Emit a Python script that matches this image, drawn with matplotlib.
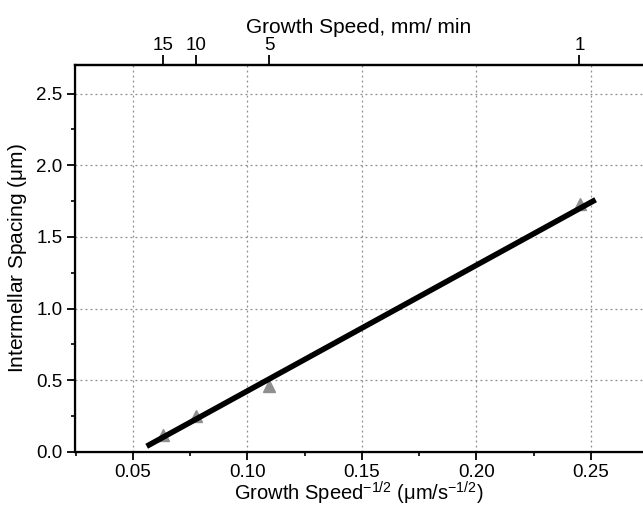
import matplotlib.pyplot as plt
from matplotlib.ticker import MultipleLocator
import numpy as np

plt.rcParams['font.family'] = ['Liberation Sans', 'DejaVu Sans']
plt.rcParams['mathtext.fontset'] = 'custom'
plt.rcParams['mathtext.rm'] = 'Liberation Sans'

# measured points (triangles)
pt_x = [0.063, 0.0775, 0.1095, 0.245]
pt_y = [0.12, 0.25, 0.46, 1.73]

# linear fit line endpoints
line_x = [0.056, 0.252]
line_y = [0.04, 1.76]

# top axis: growth speed in mm/min
top_speed = [15, 10, 5, 1]
top_labels = ['15', '10', '5', '1']

fig = plt.figure(figsize=(6.43, 5.07), dpi=100)
ax = fig.add_axes([0.1166, 0.1085, 0.8834, 0.7633])

ax.plot(pt_x, pt_y, '^', color='#8f8f8f', markersize=8, zorder=2)
ax.plot(line_x, line_y, '-', color='black', lw=4, solid_capstyle='butt', zorder=3)

ax.set_xlim(0.0247, 0.2727)
ax.set_ylim(0, 2.7)
ax.xaxis.set_major_locator(MultipleLocator(0.05))
ax.xaxis.set_minor_locator(MultipleLocator(0.025))
ax.yaxis.set_major_locator(MultipleLocator(0.5))
ax.yaxis.set_minor_locator(MultipleLocator(0.25))
ax.xaxis.set_major_formatter(plt.FuncFormatter(lambda v, p: f'{v:.2f}'))
ax.yaxis.set_major_formatter(plt.FuncFormatter(lambda v, p: f'{v:.1f}'))

ax.grid(True, which='major', color='#8c8c8c', lw=0.9, linestyle=(0, (1.5, 2.5)))
ax.tick_params(which='major', direction='out', length=6, width=1.3, labelsize=13.5, colors='black', pad=3)
ax.tick_params(which='minor', direction='out', length=3, width=1.2)
ax.spines['right'].set_visible(False)
for s in ['left', 'bottom', 'top']:
    ax.spines[s].set_linewidth(1.6)

ax.set_xlabel(r'Growth Speed$^{\mathrm{-1/2}}$ ($\mathrm{\mu}$m/s$^{\mathrm{-1/2}}$)', fontsize=14.5, labelpad=-1)
ax.set_ylabel(r'Intermellar Spacing ($\mathrm{\mu}$m)', fontsize=15, labelpad=5)

# top axis, V^-1/2 with V in um/s
ax2 = ax.twiny()
ax2.set_xlim(ax.get_xlim())
top_pos = [(v * 1000 / 60) ** -0.5 for v in top_speed]
ax2.set_xticks(top_pos)
ax2.set_xticklabels(top_labels)
ax2.tick_params(direction='out', length=7, width=1.3, labelsize=13.5, pad=1)
ax2.spines['right'].set_visible(False)
ax2.spines['top'].set_linewidth(1.6)
ax2.set_xlabel('Growth Speed, mm/ min', fontsize=15, labelpad=3)

fig.savefig('out.png', dpi=100)
